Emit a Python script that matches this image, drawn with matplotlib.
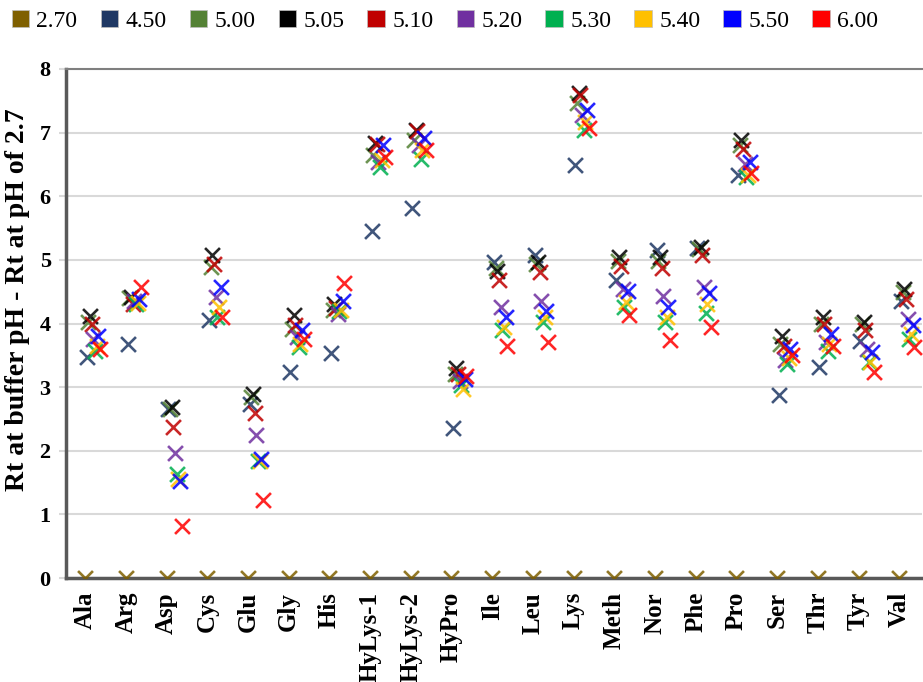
import numpy as np
import matplotlib
matplotlib.use('Agg')
import matplotlib.pyplot as plt
from matplotlib.patches import Patch

plt.rc('font', family='Liberation Serif')
plt.rc('axes', linewidth=2.5)

# amino acids on the x axis
amino = ['Ala', 'Arg', 'Asp', 'Cys', 'Glu', 'Gly', 'His', 'HyLys-1', 'HyLys-2', 'HyPro',
         'Ile', 'Leu', 'Lys', 'Meth', 'Nor', 'Phe', 'Pro', 'Ser', 'Thr', 'Tyr', 'Val']

# shift in retention time relative to pH 2.7, one list per buffer pH
ph_270 = [0.0] * 21
ph_450 = [3.47, 3.68, 2.66, 4.06, 2.73, 3.23, 3.53, 5.46, 5.82, 2.35, 4.97,
          5.07, 6.49, 4.68, 5.16, 5.18, 6.34, 2.87, 3.32, 3.73, 4.36]
ph_500 = [4.03, 4.40, 2.65, 4.89, 2.85, 3.92, 4.22, 6.65, 6.88, 3.21, 4.88,
          4.93, 7.46, 4.98, 4.98, 5.17, 6.80, 3.68, 4.00, 4.00, 4.50]
ph_505 = [4.12, 4.41, 2.68, 5.07, 2.89, 4.13, 4.30, 6.84, 7.04, 3.30, 4.83,
          4.97, 7.62, 5.04, 5.04, 5.20, 6.88, 3.81, 4.10, 4.02, 4.55]
ph_510 = [4.00, 4.31, 2.37, 4.94, 2.60, 3.97, 4.25, 6.82, 7.02, 3.21, 4.68,
          4.81, 7.59, 4.91, 4.88, 5.07, 6.75, 3.65, 4.00, 3.89, 4.39]
ph_520 = [3.76, 4.36, 1.97, 4.41, 2.24, 3.78, 4.15, 6.54, 6.80, 3.10, 4.26,
          4.36, 7.28, 4.55, 4.44, 4.58, 6.51, 3.42, 3.71, 3.60, 4.07]
ph_530 = [3.57, 4.30, 1.64, 4.10, 1.84, 3.63, 4.20, 6.46, 6.59, 3.03, 3.89,
          4.02, 7.04, 4.26, 4.02, 4.16, 6.30, 3.37, 3.57, 3.40, 3.76]
ph_540 = [3.65, 4.33, 1.56, 4.26, 1.84, 3.68, 4.22, 6.57, 6.72, 2.97, 3.95,
          4.10, 7.17, 4.34, 4.10, 4.31, 6.33, 3.45, 3.68, 3.39, 3.84]
ph_550 = [3.80, 4.39, 1.53, 4.57, 1.87, 3.89, 4.36, 6.80, 6.91, 3.13, 4.11,
          4.20, 7.35, 4.51, 4.26, 4.48, 6.54, 3.60, 3.84, 3.55, 3.97]
ph_600 = [3.60, 4.57, 0.82, 4.10, 1.22, 3.76, 4.63, 6.62, 6.72, 3.18, 3.64,
          3.71, 7.07, 4.13, 3.74, 3.94, 6.36, 3.50, 3.65, 3.23, 3.63]

ph_labels = ['2.70', '4.50', '5.00', '5.05', '5.10', '5.20', '5.30', '5.40', '5.50', '6.00']
series = [ph_270, ph_450, ph_500, ph_505, ph_510, ph_520, ph_530, ph_540, ph_550, ph_600]
colors = ['#7F6000', '#1F3864', '#548235', '#000000', '#C00000',
          '#7030A0', '#00B050', '#FFC000', '#0000FF', '#FF0000']

fig = plt.figure(figsize=(9.23, 6.82), dpi=100)
ax = fig.add_axes([66 / 923, 104 / 682, 856 / 923, 509 / 682])

x = np.arange(len(amino))
for k, (vals, col) in enumerate(zip(series, colors)):
    # each buffer is nudged a little to the right so the crosses don't stack
    ax.scatter(x + 0.041 * k, vals, marker='x', s=115, color=col,
               linewidths=1.9, alpha=0.85, zorder=3 + k)

ax.set_xlim(-0.47, 20.56)
ax.set_ylim(0, 8)
ax.set_yticks(range(0, 9))
ax.yaxis.grid(True, color='#D9D9D9', linewidth=1.5)
ax.set_axisbelow(True)

for side in ['left', 'bottom']:
    ax.spines[side].set_color('#595959')
ax.spines['top'].set_color('#7F7F7F')
ax.spines['top'].set_linewidth(1.5)
ax.spines['right'].set_visible(False)

ax.set_xticks(x)
ax.set_xticklabels(amino, rotation=90, fontsize=18, fontweight='bold', va='top')
ax.tick_params(axis='x', length=0, pad=10)
ax.tick_params(axis='y', length=5, width=1.5, color='#D9D9D9', pad=6,
               labelsize=16)
for lbl in ax.get_yticklabels():
    lbl.set_fontweight('bold')

fig.text(18 / 923, 0.56, 'Rt at buffer pH - Rt at pH of 2.7', rotation=90,
         ha='center', va='center', fontsize=20, fontweight='bold')

handles = [Patch(facecolor=c, edgecolor='#BFBFBF', linewidth=0.5) for c in colors]
fig.legend(handles, ph_labels, loc='center', bbox_to_anchor=(0.482, 0.969),
           ncol=10, frameon=False, fontsize=17, handlelength=0.75,
           handleheight=0.75, handletextpad=0.3, columnspacing=0.98)

fig.savefig('out.png', dpi=100)
